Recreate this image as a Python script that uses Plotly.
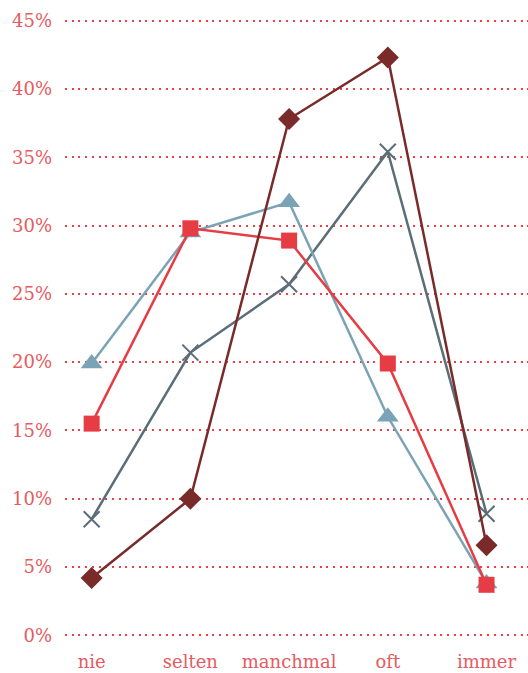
import plotly.graph_objects as go

categories = ["nie", "selten", "manchmal", "oft", "immer"]
tick_values = [0, 5, 10, 15, 20, 25, 30, 35, 40, 45]
tick_labels = ["0%", "5%", "10%", "15%", "20%", "25%", "30%", "35%", "40%", "45%"]

series_diamond = [4.2, 10.0, 37.8, 42.3, 6.6]
series_square = [15.5, 29.8, 28.9, 19.9, 3.7]
series_triangle = [19.9, 29.5, 31.7, 16.0, 3.8]
series_cross = [8.5, 20.7, 25.7, 35.4, 8.9]

fig = go.Figure()

def add(vals, color, symbol, size, mline=0):
    fig.add_trace(go.Scatter(
        x=categories, y=vals, mode="lines+markers",
        line=dict(color=color, width=2.5),
        marker=dict(symbol=symbol, size=size, color=color,
                    line=dict(color=color, width=mline)),
        cliponaxis=False, showlegend=False,
    ))

add(series_cross, "#5b6e78", "x-thin", 16, 2)
add(series_triangle, "#7ba3b6", "triangle-up", 19)
add(series_square, "#e63c44", "square", 16)
add(series_diamond, "#7b2a2a", "diamond", 17)

font_fam = "DejaVu Serif"
fig.update_layout(
    width=528, height=673,
    margin=dict(l=65, r=0, t=7, b=24),
    plot_bgcolor="white", paper_bgcolor="white",
    font=dict(family=font_fam, size=18, color="#e65a60"),
    xaxis=dict(
        type="category", range=[-0.27, 4.42],
        showgrid=False, zeroline=False, showline=False,
        ticks="", tickfont=dict(family=font_fam, size=18, color="#e65a60"),
    ),
    yaxis=dict(
        range=[-1, 46], tickvals=tick_values, ticktext=tick_labels,
        showgrid=True, gridcolor="#ec3f46", griddash="2px,4.7px", gridwidth=2,
        zeroline=False, showline=False, ticks="",
        ticklabelstandoff=12,
        tickfont=dict(family=font_fam, size=18, color="#e65a60"),
    ),
)

fig.write_html("out.html")
